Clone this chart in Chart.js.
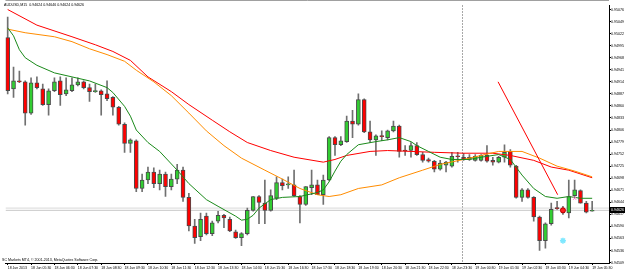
<!DOCTYPE html>
<html>
<head>
<meta charset="utf-8">
<title>AUDUSD,M15</title>
<script src="https://cdn.jsdelivr.net/npm/chart.js@4.4.1/dist/chart.umd.min.js"></script>
<style>
  html, body { margin: 0; padding: 0; background: #fff; }
  #chart { display: block; }
</style>
</head>
<body>
<canvas id="chart" width="625" height="271"></canvas>
<script>
// AUDUSD M15, 18 Jun 04:30 .. 19 Jun 05:30, one bar per 15 min
const symbol = "AUDUSD,M15";
const barsPerLabel = 4;
const timeLabels = ["18 Jun 2013", "18 Jun 05:30", "18 Jun 06:30", "18 Jun 07:30", "18 Jun 08:30",
    "18 Jun 09:30", "18 Jun 10:30", "18 Jun 11:30", "18 Jun 12:30", "18 Jun 13:30", "18 Jun 14:30",
    "18 Jun 15:30", "18 Jun 16:30", "18 Jun 17:30", "18 Jun 18:30", "18 Jun 19:30", "18 Jun 20:30",
    "18 Jun 21:30", "18 Jun 22:30", "18 Jun 23:30", "19 Jun 00:30", "19 Jun 01:30", "19 Jun 02:30",
    "19 Jun 03:30", "19 Jun 04:30", "19 Jun 05:30"];
const priceTicks = [0.95076, 0.95049, 0.95022, 0.94995, 0.94968, 0.94941, 0.94914, 0.94887, 0.94860,
    0.94833, 0.94806, 0.94779, 0.94752, 0.94725, 0.94698, 0.94671, 0.94644, 0.94617, 0.94590,
    0.94563, 0.94536, 0.94509];

const opens = [0.95013, 0.94898, 0.94916, 0.94914, 0.94844, 0.94912, 0.94898, 0.94863, 0.94894, 0.94916,
    0.94887, 0.94894, 0.94907, 0.94914, 0.94901, 0.94892, 0.94894, 0.94887, 0.94879, 0.94857,
    0.94819, 0.94776, 0.94782, 0.94675, 0.94694, 0.94712, 0.94686, 0.94707, 0.94679, 0.94696,
    0.94716, 0.94655, 0.94591, 0.94567, 0.94613, 0.94574, 0.94602, 0.94615, 0.94606, 0.94578,
    0.94565, 0.94574, 0.94626, 0.94657, 0.94642, 0.94626, 0.94653, 0.94688, 0.94683, 0.94683,
    0.94657, 0.94639, 0.94677, 0.94683, 0.94661, 0.94694, 0.94789, 0.94773, 0.94780, 0.94826,
    0.94819, 0.94874, 0.94802, 0.94784, 0.94793, 0.94789, 0.94804, 0.94815, 0.94760, 0.94760,
    0.94771, 0.94751, 0.94740, 0.94736, 0.94718, 0.94727, 0.94725, 0.94747, 0.94745, 0.94740,
    0.94738, 0.94738, 0.94749, 0.94738, 0.94734, 0.94745, 0.94758, 0.94725, 0.94655, 0.94672,
    0.94655, 0.94611, 0.94558, 0.94596, 0.94631, 0.94631, 0.94620, 0.94659, 0.94670, 0.94642,
    0.94624];
const highs = [0.95059, 0.94947, 0.94938, 0.94916, 0.94923, 0.94925, 0.94909, 0.94898, 0.94923, 0.94925,
    0.94923, 0.94923, 0.94923, 0.94916, 0.94909, 0.94909, 0.94896, 0.94916, 0.94881, 0.94859,
    0.94822, 0.94786, 0.94784, 0.94707, 0.94723, 0.94721, 0.94716, 0.94712, 0.94707, 0.94729,
    0.94723, 0.94664, 0.94606, 0.94620, 0.94620, 0.94602, 0.94624, 0.94617, 0.94611, 0.94582,
    0.94576, 0.94631, 0.94657, 0.94659, 0.94694, 0.94672, 0.94701, 0.94696, 0.94701, 0.94716,
    0.94659, 0.94679, 0.94716, 0.94694, 0.94705, 0.94791, 0.94791, 0.94791, 0.94837, 0.94850,
    0.94887, 0.94876, 0.94826, 0.94795, 0.94804, 0.94806, 0.94826, 0.94817, 0.94771, 0.94778,
    0.94778, 0.94756, 0.94743, 0.94738, 0.94738, 0.94736, 0.94756, 0.94756, 0.94754, 0.94751,
    0.94751, 0.94751, 0.94771, 0.94745, 0.94747, 0.94773, 0.94762, 0.94727, 0.94675, 0.94675,
    0.94657, 0.94613, 0.94598, 0.94642, 0.94646, 0.94635, 0.94694, 0.94694, 0.94672, 0.94646,
    0.94646];
const lows = [0.94887, 0.94879, 0.94912, 0.94817, 0.94841, 0.94898, 0.94861, 0.94839, 0.94892, 0.94861,
    0.94883, 0.94892, 0.94905, 0.94898, 0.94870, 0.94890, 0.94839, 0.94872, 0.94839, 0.94817,
    0.94756, 0.94756, 0.94668, 0.94668, 0.94686, 0.94677, 0.94672, 0.94657, 0.94672, 0.94686,
    0.94646, 0.94580, 0.94552, 0.94558, 0.94571, 0.94569, 0.94598, 0.94587, 0.94578, 0.94563,
    0.94547, 0.94571, 0.94624, 0.94596, 0.94596, 0.94624, 0.94650, 0.94672, 0.94675, 0.94657,
    0.94598, 0.94637, 0.94661, 0.94661, 0.94639, 0.94692, 0.94749, 0.94771, 0.94778, 0.94789,
    0.94817, 0.94800, 0.94778, 0.94749, 0.94782, 0.94784, 0.94802, 0.94745, 0.94749, 0.94745,
    0.94749, 0.94734, 0.94734, 0.94712, 0.94716, 0.94712, 0.94723, 0.94734, 0.94738, 0.94738,
    0.94736, 0.94736, 0.94734, 0.94727, 0.94732, 0.94734, 0.94723, 0.94653, 0.94646, 0.94653,
    0.94602, 0.94536, 0.94541, 0.94593, 0.94628, 0.94617, 0.94609, 0.94657, 0.94642, 0.94620,
    0.94624];
const closes = [0.94894, 0.94916, 0.94914, 0.94844, 0.94912, 0.94901, 0.94863, 0.94894, 0.94914, 0.94885,
    0.94896, 0.94907, 0.94914, 0.94901, 0.94892, 0.94894, 0.94885, 0.94876, 0.94857, 0.94819,
    0.94776, 0.94784, 0.94675, 0.94694, 0.94712, 0.94686, 0.94707, 0.94679, 0.94696, 0.94716,
    0.94655, 0.94591, 0.94565, 0.94606, 0.94574, 0.94598, 0.94615, 0.94609, 0.94580, 0.94565,
    0.94574, 0.94626, 0.94657, 0.94644, 0.94626, 0.94659, 0.94688, 0.94681, 0.94683, 0.94659,
    0.94639, 0.94679, 0.94683, 0.94661, 0.94694, 0.94789, 0.94773, 0.94782, 0.94826, 0.94819,
    0.94874, 0.94802, 0.94784, 0.94793, 0.94791, 0.94804, 0.94815, 0.94758, 0.94759, 0.94771,
    0.94751, 0.94738, 0.94736, 0.94718, 0.94732, 0.94734, 0.94747, 0.94746, 0.94740, 0.94745,
    0.94747, 0.94749, 0.94736, 0.94734, 0.94745, 0.94756, 0.94727, 0.94655, 0.94672, 0.94655,
    0.94611, 0.94558, 0.94596, 0.94628, 0.94630, 0.94620, 0.94657, 0.94672, 0.94642, 0.94622,
    0.94626];

// moving averages as [bar, price]
const maSlow = [[0, 0.95076], [5, 0.95041], [11, 0.95015], [15, 0.94997], [18, 0.94982], [21, 0.94962],
    [24, 0.94925], [28, 0.94892], [31, 0.94863], [35, 0.94828], [38, 0.94802], [41, 0.94778],
    [45, 0.94760], [49, 0.94745], [54, 0.94734], [56, 0.94740], [58, 0.94749], [62, 0.94758],
    [65, 0.94760], [69, 0.94758], [73, 0.94756], [78, 0.94754], [83, 0.94754], [86, 0.94749],
    [90, 0.94738], [93, 0.94723], [96, 0.94716], [100, 0.94699]];
const maMid = [[0, 0.95032], [3, 0.95024], [8, 0.95015], [11, 0.95004], [14, 0.94988], [17, 0.94975],
    [20, 0.94960], [22, 0.94940], [25, 0.94914], [28, 0.94883], [31, 0.94844], [34, 0.94804],
    [37, 0.94771], [40, 0.94743], [44, 0.94716], [47, 0.94696], [50, 0.94675], [53, 0.94661],
    [55, 0.94657], [57, 0.94661], [60, 0.94675], [64, 0.94683], [67, 0.94699], [71, 0.94716],
    [74, 0.94729], [78, 0.94740], [81, 0.94749], [84, 0.94758], [88, 0.94758], [91, 0.94743],
    [94, 0.94725], [97, 0.94714], [100, 0.94701]];
const maFast = [[0, 0.95035], [1, 0.95017], [2, 0.94986], [3, 0.94968], [5, 0.94951], [8, 0.94934],
    [11, 0.94925], [14, 0.94916], [17, 0.94901], [18, 0.94890], [20, 0.94859], [21, 0.94837],
    [22, 0.94806], [24, 0.94778], [26, 0.94758], [29, 0.94716], [31, 0.94686], [34, 0.94650],
    [36, 0.94635], [39, 0.94613], [40, 0.94604], [41, 0.94606], [42, 0.94615], [43, 0.94631],
    [45, 0.94650], [47, 0.94655], [50, 0.94657], [53, 0.94666], [54, 0.94672], [55, 0.94690],
    [56, 0.94714], [57, 0.94736], [58, 0.94751], [60, 0.94773], [63, 0.94780], [65, 0.94784],
    [67, 0.94789], [69, 0.94780], [70, 0.94771], [72, 0.94758], [74, 0.94745], [76, 0.94740],
    [79, 0.94740], [81, 0.94745], [84, 0.94751], [86, 0.94740], [88, 0.94705], [90, 0.94675],
    [92, 0.94657], [94, 0.94653], [96, 0.94657], [98, 0.94653], [100, 0.94653]];

const trendLine = [[83.9, 0.94914], [94.1, 0.94661]];
const ask = 0.94631;
const separatorBar = 78; // 19 Jun 00:00
const tradeMarks = [[95, 0.94626]];
const cyanMarks = [[95, 0.94558]];
const pinkMarks = [[97, 0.94653]];

const bullColor = "#32cd32";
const bearColor = "#ff0000";
const font = "'Liberation Sans', Arial, sans-serif";

const bid = closes[closes.length - 1];
const toPoints = arr => arr.map(p => ({x: p[0], y: p[1]}));
const xMin = -0.373, xMax = 102.88;

const bodyData = opens.map((o, i) => ({x: i, y: [o, closes[i]]}));
const wickData = lows.map((l, i) => ({x: i, y: [l, highs[i]]}));
const bodyColors = opens.map((o, i) => closes[i] >= o ? bullColor : bearColor);

const mtOverlay = {
    id: "mtOverlay",
    beforeDraw(chart) {
        const ctx = chart.ctx;
        ctx.save();
        ctx.fillStyle = "#fff";
        ctx.fillRect(0, 0, chart.width, chart.height);
        ctx.restore();
    },
    beforeDatasetsDraw(chart) {
        const {ctx, chartArea, scales} = chart;
        const x = Math.round(scales.x.getPixelForValue(separatorBar)) - 1.5;
        ctx.save();
        ctx.strokeStyle = "#505050";
        ctx.lineWidth = 1;
        ctx.setLineDash([1, 2]);
        ctx.beginPath();
        ctx.moveTo(x, chartArea.top);
        ctx.lineTo(x, chartArea.bottom);
        ctx.stroke();
        ctx.setLineDash([]);
        ctx.strokeStyle = "#a0a0a0";
        ctx.beginPath();
        ctx.moveTo(chartArea.left, 0.5);
        ctx.lineTo(chartArea.right, 0.5);
        ctx.stroke();
        ctx.restore();
    },
    afterDraw(chart) {
        const {ctx, chartArea, scales} = chart;
        const last = opens.length - 1;
        ctx.save();
        ctx.fillStyle = "#000";
        ctx.font = "3.6px " + font;
        ctx.textBaseline = "middle";
        ctx.textAlign = "left";
        let title = symbol + "  " + [opens[last], highs[last], lows[last], closes[last]]
            .map(v => v.toFixed(5)).join(" ");
        ctx.fillText(title, 4, 4.5);
        ctx.fillText("SC Markets MT4, \u00a9 2001-2013, MetaQuotes Software Corp.", 2, 260);

        // current price box on the axis
        const y = Math.round(scales.y.getPixelForValue(bid));
        ctx.fillStyle = "#000";
        ctx.fillRect(chartArea.right, y - 3, chart.width - chartArea.right, 6);
        ctx.fillStyle = "#fff";
        ctx.fillText(bid.toFixed(5), chartArea.right + 2, y);
        ctx.restore();
    }
};

new Chart(document.getElementById("chart"), {
    type: "bar",
    data: {
        datasets: [
            {
                type: "line",
                data: toPoints(maFast),
                borderColor: "#1a8a1a",
                borderWidth: 1,
                pointRadius: 0,
                order: 1
            },
            {
                type: "line",
                data: toPoints(maMid),
                borderColor: "#ff8c00",
                borderWidth: 1,
                pointRadius: 0,
                order: 1
            },
            {
                type: "line",
                data: toPoints(maSlow),
                borderColor: "#ff0000",
                borderWidth: 1,
                pointRadius: 0,
                order: 1
            },
            {
                type: "line",
                data: toPoints(trendLine),
                borderColor: "#ff0000",
                borderWidth: 1,
                pointRadius: 0,
                order: 0
            },
            {
                type: "line",
                data: toPoints(tradeMarks),
                showLine: false,
                pointStyle: "circle",
                pointRadius: 2.5,
                pointBackgroundColor: "#ff2020",
                pointBorderColor: "#c00000",
                order: 0
            },
            {
                type: "line",
                data: toPoints(cyanMarks),
                showLine: false,
                pointStyle: "star",
                pointRadius: 3,
                pointBorderWidth: 1.5,
                pointBorderColor: "#7fe8ff",
                order: 0
            },
            {
                type: "line",
                data: toPoints(pinkMarks),
                showLine: false,
                pointStyle: "crossRot",
                pointRadius: 2,
                pointBorderWidth: 1,
                pointBorderColor: "#ff66cc",
                order: 0
            },
            {
                data: bodyData,
                backgroundColor: bodyColors,
                borderColor: "#4a4a4a",
                borderWidth: 1,
                borderSkipped: false,
                barThickness: 4,
                minBarLength: 1,
                grouped: false,
                order: 2
            },
            {
                data: wickData,
                backgroundColor: "#707070",
                borderWidth: 0,
                barThickness: 1,
                grouped: false,
                order: 3
            },
            {
                type: "line",
                data: [{x: xMin, y: bid}, {x: xMax, y: bid}],
                borderColor: "#c8c8c8",
                borderWidth: 1,
                pointRadius: 0,
                order: 4
            },
            {
                type: "line",
                data: [{x: xMin, y: ask}, {x: xMax, y: ask}],
                borderColor: "#d8d8d8",
                borderWidth: 1,
                pointRadius: 0,
                order: 4
            }
        ]
    },
    options: {
        responsive: false,
        animation: false,
        devicePixelRatio: 1,
        events: [],
        layout: { padding: 0 },
        plugins: {
            legend: { display: false },
            tooltip: { enabled: false }
        },
        scales: {
            x: {
                type: "linear",
                min: xMin,
                max: xMax,
                offset: false,
                bounds: "data",
                border: { display: true, color: "#000", width: 1 },
                grid: { drawOnChartArea: false, drawTicks: true, tickLength: 2, tickColor: "#000", offset: false },
                ticks: {
                    align: "start",
                    autoSkip: false,
                    maxRotation: 0,
                    minRotation: 0,
                    padding: 1,
                    color: "#000",
                    font: { family: font, size: 3.5 },
                    callback: (v, i) => timeLabels[i]
                },
                afterBuildTicks: scale => {
                    scale.ticks = timeLabels.map((_, k) => ({value: k * barsPerLabel}));
                },
                afterFit: scale => {
                    scale.height = 8;
                    scale.paddingLeft = 0;
                    scale.paddingRight = 0;
                }
            },
            y: {
                type: "linear",
                position: "right",
                min: 0.94508,
                max: 0.95085,
                beginAtZero: false,
                bounds: "data",
                border: { display: true, color: "#000", width: 1 },
                grid: { drawOnChartArea: false, drawTicks: true, tickLength: 2, tickColor: "#000" },
                ticks: {
                    autoSkip: false,
                    padding: 0,
                    color: "#000",
                    font: { family: font, size: 3.6 },
                    callback: v => v.toFixed(5)
                },
                afterBuildTicks: scale => {
                    scale.ticks = priceTicks.map(v => ({value: v}));
                },
                afterFit: scale => {
                    scale.width = 16;
                    scale.paddingTop = 0;
                    scale.paddingBottom = 0;
                }
            }
        }
    },
    plugins: [mtOverlay]
});
</script>
</body>
</html>
